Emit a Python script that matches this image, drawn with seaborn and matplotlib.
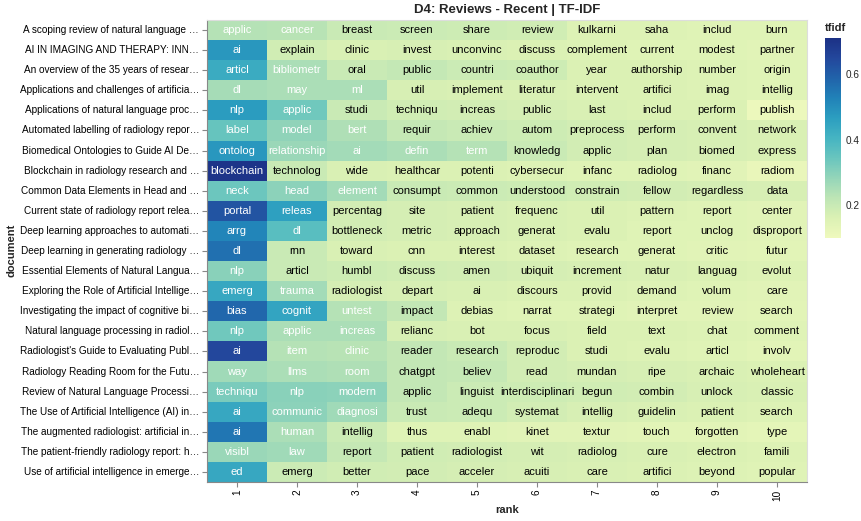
import numpy as np
import pandas as pd
import seaborn as sns
import matplotlib.pyplot as plt
from matplotlib.colors import LinearSegmentedColormap

# document titles (already truncated as shown in the chart)
documents = [
    "A scoping review of natural language …",
    "AI IN IMAGING AND THERAPY: INN…",
    "An overview of the 35 years of resear…",
    "Applications and challenges of artificia…",
    "Applications of natural language proc…",
    "Automated labelling of radiology repor…",
    "Biomedical Ontologies to Guide AI De…",
    "Blockchain in radiology research and …",
    "Common Data Elements in Head and …",
    "Current state of radiology report relea…",
    "Deep learning approaches to automati…",
    "Deep learning in generating radiology …",
    "Essential Elements of Natural Langua…",
    "Exploring the Role of Artificial Intellige…",
    "Investigating the impact of cognitive bi…",
    "Natural language processing in radiol…",
    "Radiologist's Guide to Evaluating Publ…",
    "Radiology Reading Room for the Futu…",
    "Review of Natural Language Processi…",
    "The Use of Artificial Intelligence (AI) in…",
    "The augmented radiologist: artificial in…",
    "The patient-friendly radiology report: h…",
    "Use of artificial intelligence in emerge…",
]

ranks = list(range(1, 11))

terms = [
    ["applic", "cancer", "breast", "screen", "share", "review", "kulkarni", "saha", "includ", "burn"],
    ["ai", "explain", "clinic", "invest", "unconvinc", "discuss", "complement", "current", "modest", "partner"],
    ["articl", "bibliometr", "oral", "public", "countri", "coauthor", "year", "authorship", "number", "origin"],
    ["dl", "may", "ml", "util", "implement", "literatur", "intervent", "artifici", "imag", "intellig"],
    ["nlp", "applic", "studi", "techniqu", "increas", "public", "last", "includ", "perform", "publish"],
    ["label", "model", "bert", "requir", "achiev", "autom", "preprocess", "perform", "convent", "network"],
    ["ontolog", "relationship", "ai", "defin", "term", "knowledg", "applic", "plan", "biomed", "express"],
    ["blockchain", "technolog", "wide", "healthcar", "potenti", "cybersecur", "infanc", "radiolog", "financ", "radiom"],
    ["neck", "head", "element", "consumpt", "common", "understood", "constrain", "fellow", "regardless", "data"],
    ["portal", "releas", "percentag", "site", "patient", "frequenc", "util", "pattern", "report", "center"],
    ["arrg", "dl", "bottleneck", "metric", "approach", "generat", "evalu", "report", "unclog", "disproport"],
    ["dl", "rnn", "toward", "cnn", "interest", "dataset", "research", "generat", "critic", "futur"],
    ["nlp", "articl", "humbl", "discuss", "amen", "ubiquit", "increment", "natur", "languag", "evolut"],
    ["emerg", "trauma", "radiologist", "depart", "ai", "discours", "provid", "demand", "volum", "care"],
    ["bias", "cognit", "untest", "impact", "debias", "narrat", "strategi", "interpret", "review", "search"],
    ["nlp", "applic", "increas", "relianc", "bot", "focus", "field", "text", "chat", "comment"],
    ["ai", "item", "clinic", "reader", "research", "reproduc", "studi", "evalu", "articl", "involv"],
    ["way", "llms", "room", "chatgpt", "believ", "read", "mundan", "ripe", "archaic", "wholeheart"],
    ["techniqu", "nlp", "modern", "applic", "linguist", "interdisciplinari", "begun", "combin", "unlock", "classic"],
    ["ai", "communic", "diagnosi", "trust", "adequ", "systemat", "intellig", "guidelin", "patient", "search"],
    ["ai", "human", "intellig", "thus", "enabl", "kinet", "textur", "touch", "forgotten", "type"],
    ["visibl", "law", "report", "patient", "radiologist", "wit", "radiolog", "cure", "electron", "famili"],
    ["ed", "emerg", "better", "pace", "acceler", "acuiti", "care", "artifici", "beyond", "popular"],
]

tfidf = [
    [0.235, 0.230, 0.200, 0.195, 0.190, 0.185, 0.155, 0.155, 0.150, 0.150],
    [0.480, 0.185, 0.165, 0.170, 0.165, 0.160, 0.155, 0.150, 0.150, 0.145],
    [0.430, 0.250, 0.200, 0.208, 0.195, 0.190, 0.160, 0.160, 0.155, 0.150],
    [0.255, 0.250, 0.250, 0.170, 0.165, 0.165, 0.160, 0.160, 0.155, 0.150],
    [0.470, 0.335, 0.200, 0.185, 0.180, 0.175, 0.165, 0.160, 0.160, 0.110],
    [0.350, 0.290, 0.245, 0.205, 0.200, 0.190, 0.180, 0.175, 0.170, 0.165],
    [0.480, 0.275, 0.260, 0.250, 0.235, 0.200, 0.180, 0.175, 0.170, 0.165],
    [0.700, 0.200, 0.165, 0.160, 0.160, 0.155, 0.150, 0.150, 0.145, 0.120],
    [0.340, 0.295, 0.260, 0.200, 0.195, 0.190, 0.185, 0.180, 0.175, 0.170],
    [0.620, 0.460, 0.180, 0.175, 0.170, 0.165, 0.160, 0.155, 0.150, 0.145],
    [0.520, 0.370, 0.180, 0.175, 0.170, 0.165, 0.160, 0.150, 0.150, 0.145],
    [0.560, 0.200, 0.165, 0.160, 0.160, 0.155, 0.150, 0.150, 0.145, 0.140],
    [0.300, 0.200, 0.190, 0.185, 0.180, 0.175, 0.170, 0.165, 0.160, 0.155],
    [0.440, 0.260, 0.175, 0.170, 0.165, 0.160, 0.160, 0.155, 0.150, 0.145],
    [0.580, 0.450, 0.235, 0.210, 0.155, 0.150, 0.150, 0.145, 0.145, 0.140],
    [0.335, 0.250, 0.250, 0.170, 0.165, 0.165, 0.160, 0.160, 0.155, 0.150],
    [0.650, 0.235, 0.230, 0.210, 0.200, 0.180, 0.160, 0.155, 0.150, 0.140],
    [0.265, 0.250, 0.245, 0.210, 0.205, 0.180, 0.175, 0.170, 0.165, 0.160],
    [0.320, 0.300, 0.295, 0.210, 0.195, 0.190, 0.185, 0.180, 0.170, 0.165],
    [0.440, 0.295, 0.265, 0.200, 0.195, 0.180, 0.170, 0.165, 0.160, 0.155],
    [0.550, 0.250, 0.195, 0.150, 0.150, 0.145, 0.145, 0.140, 0.140, 0.135],
    [0.275, 0.265, 0.205, 0.185, 0.180, 0.175, 0.170, 0.165, 0.160, 0.155],
    [0.440, 0.195, 0.185, 0.180, 0.175, 0.170, 0.165, 0.160, 0.155, 0.150],
]

# long table -> pivot, like the original data would be
rows = []
for doc, tl, vl in zip(documents, terms, tfidf):
    for r, t, v in zip(ranks, tl, vl):
        rows.append({"document": doc, "rank": r, "term": t, "tfidf": v})
df = pd.DataFrame(rows)

vals = df.pivot(index="document", columns="rank", values="tfidf").reindex(documents)
labels = df.pivot(index="document", columns="rank", values="term").reindex(documents)

# vega "yellowgreenblue" scheme
ygb = ["#eff9bd", "#dbf1b4", "#bde5b5", "#94d5b9", "#69c5be", "#45b4c2",
       "#2c9ec0", "#2182b8", "#2163aa", "#23479c", "#1c3185"]
cmap = LinearSegmentedColormap.from_list("ygb", ygb)

sns.set_theme(style="white")
plt.rcParams["font.family"] = ["Liberation Sans", "DejaVu Sans"]

fig = plt.figure(figsize=(8.62, 5.21), dpi=100)
ax = fig.add_axes([207 / 862, 39 / 521, 600 / 862, 462 / 521])
cax = fig.add_axes([825 / 862, 283 / 521, 16 / 862, 200 / 521])

sns.heatmap(vals, ax=ax, cbar_ax=cax, cmap=cmap, vmin=0.10, vmax=0.71,
            annot=labels.values, fmt="", annot_kws={"fontsize": 8})

# white text on the darker cells
flat = vals.values.flatten()
for txt, v in zip(ax.texts, flat):
    txt.set_color("white" if v > 0.215 else "black")

ax.set_xlabel("")
ax.set_ylabel("")
ax.tick_params(axis="both", length=3.6, width=0.8, color="#888888", pad=2,
               labelsize=7.2, labelcolor="#000000", bottom=True, left=True)
ax.set_xticklabels(ranks, rotation=90)
ax.set_yticklabels(documents, rotation=0)

for side, sp in ax.spines.items():
    sp.set_visible(True)
    sp.set_linewidth(0.8)
    sp.set_color("#888888" if side in ("left", "bottom") else "#dddddd")

cax.tick_params(length=0, labelsize=7.2, pad=3)
cax.set_yticks([0.2, 0.4, 0.6])
cax.set_yticklabels(["0.2", "0.4", "0.6"])
for sp in cax.spines.values():
    sp.set_visible(False)
fig.text(825 / 862, 1 - 28 / 521, "tfidf", fontsize=8, fontweight="bold", va="center")

fig.text(507 / 862, 1 - 10 / 521, "D4: Reviews - Recent | TF-IDF", fontsize=9.5,
         fontweight="bold", ha="center", va="center")
fig.text(507 / 862, 1 - 510 / 521, "rank", fontsize=8, fontweight="bold",
         ha="center", va="center")
fig.text(12 / 862, 1 - 250 / 521, "document", fontsize=8, fontweight="bold",
         ha="center", va="center", rotation=90)

fig.savefig("out.png", dpi=100)
